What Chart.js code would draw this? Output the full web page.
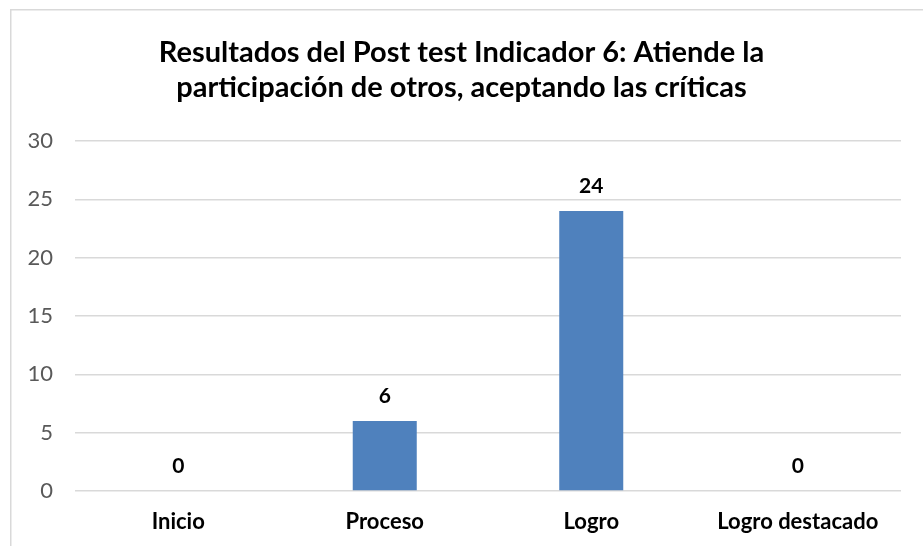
<!DOCTYPE html>
<html>
<head>
<meta charset="utf-8">
<script src="https://cdn.jsdelivr.net/npm/chart.js@4/dist/chart.umd.min.js"></script>
<style>
html,body{margin:0;padding:0;background:#fff;}
#wrap{position:relative;width:923px;height:546px;}
</style>
</head>
<body>
<div id="wrap"><canvas id="c" width="923" height="546"></canvas></div>
<script>
const titleLines = ["Resultados del Post test Indicador 6: Atiende la", "participación de otros, aceptando las críticas"];
const categories = ["Inicio", "Proceso", "Logro", "Logro destacado"];
const values = [0, 6, 24, 0];
const yMin = 0, yMax = 30, yStep = 5;

const FONT = "Lato, 'Open Sans', sans-serif";

const frame = {
  id: 'frame',
  beforeDraw(chart) {
    const ctx = chart.ctx;
    ctx.save();
    ctx.fillStyle = '#fff';
    ctx.fillRect(0, 0, chart.width, chart.height);
    ctx.strokeStyle = '#d9d9d9';
    ctx.lineWidth = 1.5;
    ctx.beginPath();
    ctx.moveTo(10.75, chart.height);
    ctx.lineTo(10.75, 9.75);
    ctx.lineTo(chart.width, 9.75);
    ctx.stroke();
    ctx.restore();
  }
};

const valueLabels = {
  id: 'valueLabels',
  afterDatasetsDraw(chart) {
    const ctx = chart.ctx;
    const meta = chart.getDatasetMeta(0);
    ctx.save();
    ctx.font = "bold 21px " + FONT;
    ctx.fillStyle = '#000';
    ctx.textAlign = 'center';
    ctx.textBaseline = 'middle';
    meta.data.forEach((bar, i) => {
      ctx.fillText(String(values[i]), bar.x, bar.y - 25);
    });
    ctx.restore();
  }
};

new Chart(document.getElementById('c'), {
  type: 'bar',
  data: {
    labels: categories,
    datasets: [{
      data: values,
      backgroundColor: '#4f81bd',
      borderWidth: 0,
      categoryPercentage: 1,
      barPercentage: 0.31
    }]
  },
  options: {
    responsive: false,
    animation: false,
    devicePixelRatio: 1,
    layout: { padding: { left: 22, right: 22, top: 35, bottom: 0 } },
    plugins: {
      legend: { display: false },
      tooltip: { enabled: false },
      title: {
        display: true,
        text: titleLines,
        color: '#000',
        font: { family: FONT, size: 29, weight: 'bold', lineHeight: '35px' },
        padding: { top: 0, bottom: 36 }
      }
    },
    scales: {
      x: {
        grid: { display: false, drawTicks: false },
        border: { display: false },
        ticks: { color: '#000', font: { family: FONT, size: 22, weight: 'bold' }, padding: 18 },
        afterFit(s) { s.height = 55; }
      },
      y: {
        min: yMin, max: yMax,
        ticks: { stepSize: yStep, color: '#595959', font: { family: FONT, size: 22 }, padding: 22 },
        grid: { color: '#d9d9d9', lineWidth: 1.5, drawTicks: false },
        border: { display: false },
        afterFit(s) { s.width = 53; }
      }
    }
  },
  plugins: [frame, valueLabels]
});
</script>
</body>
</html>
